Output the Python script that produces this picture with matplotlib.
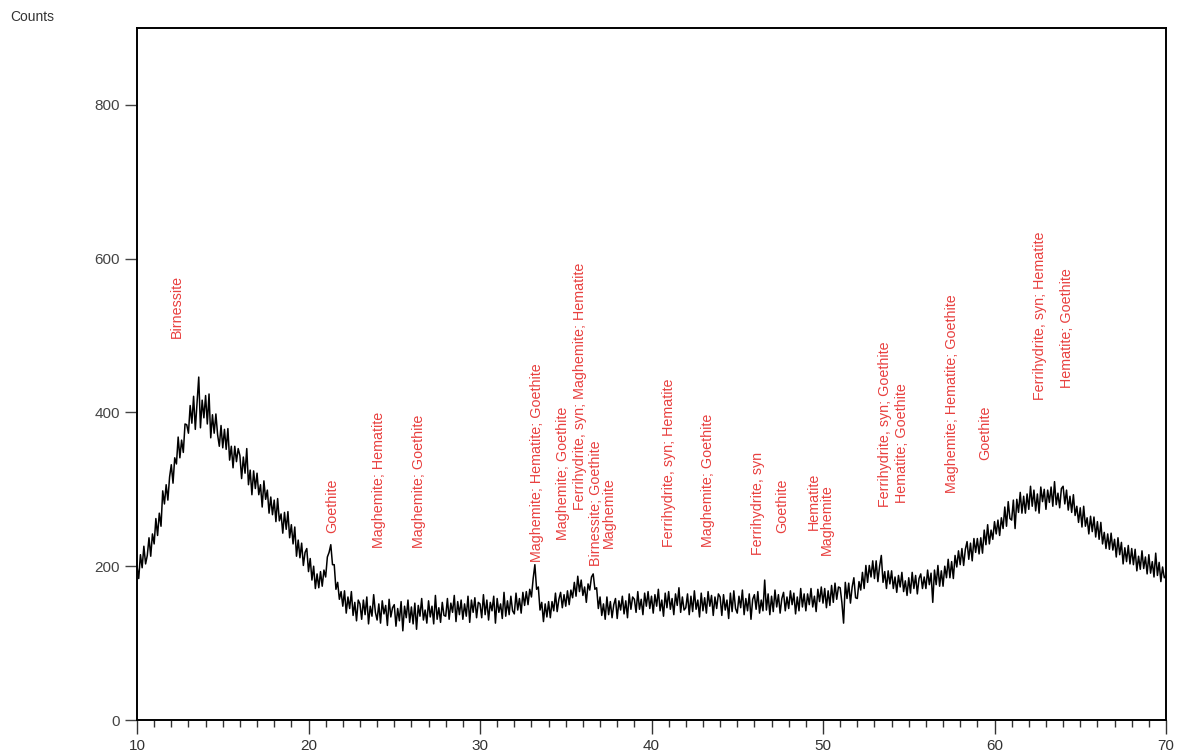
import matplotlib.pyplot as plt
import numpy as np

# 2theta scan, 0.1 deg steps from 10 to 70
start_angle = 10.0
step = 0.1
counts = [
    200, 184, 215, 198, 226, 203, 214, 237, 213, 242,
    229, 262, 240, 269, 252, 298, 281, 306, 286, 316,
    332, 308, 341, 333, 368, 341, 364, 348, 385, 384,
    373, 409, 386, 421, 378, 412, 446, 380, 416, 393,
    422, 385, 424, 367, 397, 373, 398, 371, 356, 383,
    354, 378, 352, 379, 338, 356, 328, 356, 336, 353,
    344, 314, 342, 321, 353, 306, 325, 293, 324, 301,
    321, 293, 306, 277, 311, 287, 299, 269, 290, 267,
    286, 258, 288, 259, 268, 243, 270, 248, 271, 237,
    254, 229, 251, 213, 234, 211, 230, 201, 218, 223,
    193, 210, 182, 200, 171, 190, 172, 193, 174, 195,
    186, 212, 218, 228, 202, 202, 170, 179, 157, 167,
    148, 168, 139, 160, 145, 167, 136, 153, 129, 156,
    151, 131, 156, 137, 160, 125, 148, 135, 163, 140,
    130, 151, 126, 155, 138, 149, 123, 157, 134, 146,
    150, 122, 145, 129, 154, 116, 148, 133, 156, 127,
    147, 125, 152, 118, 149, 135, 158, 130, 143, 126,
    155, 134, 148, 125, 162, 131, 146, 127, 153, 136,
    135, 158, 131, 152, 140, 162, 128, 154, 137, 156,
    131, 151, 135, 161, 127, 156, 140, 159, 133, 153,
    151, 133, 163, 137, 156, 130, 153, 142, 161, 126,
    158, 140, 151, 132, 166, 135, 155, 137, 161, 142,
    138, 165, 143, 158, 139, 166, 149, 167, 150, 170,
    160, 184, 202, 170, 173, 143, 153, 128, 151, 134,
    154, 133, 154, 142, 165, 141, 157, 166, 146, 163,
    148, 168, 150, 169, 159, 179, 161, 187, 167, 182,
    162, 173, 153, 177, 169, 186, 190, 170, 172, 145,
    160, 136, 151, 131, 160, 137, 154, 133, 150, 158,
    132, 155, 143, 161, 138, 155, 133, 164, 144, 160,
    157, 140, 167, 144, 157, 137, 165, 148, 167, 145,
    161, 139, 163, 148, 170, 142, 156, 135, 165, 146,
    167, 144, 158, 137, 164, 149, 172, 140, 160, 143,
    146, 164, 137, 161, 141, 168, 144, 156, 134, 165,
    142, 159, 139, 167, 148, 162, 136, 160, 145, 164,
    160, 136, 163, 143, 156, 132, 165, 141, 168, 145,
    139, 161, 146, 169, 137, 158, 142, 164, 131, 157,
    163, 144, 167, 139, 156, 142, 182, 143, 164, 137,
    161, 141, 169, 147, 163, 139, 158, 166, 142, 160,
    145, 168, 150, 165, 138, 160, 142, 171, 147, 164,
    142, 164, 150, 171, 147, 161, 141, 170, 154, 173,
    152, 171, 146, 168, 149, 175, 153, 178, 157, 173,
    172, 153, 126, 179, 158, 178, 152, 173, 185, 159,
    158, 180, 169, 192, 171, 201, 179, 201, 186, 207,
    184, 207, 180, 200, 214, 179, 193, 171, 194, 177,
    194, 171, 186, 166, 188, 173, 192, 167, 181, 162,
    185, 165, 192, 171, 188, 164, 184, 190, 171, 186,
    171, 195, 176, 191, 153, 195, 176, 201, 174, 194,
    174, 200, 185, 209, 185, 206, 184, 214, 199, 220,
    202, 223, 201, 222, 232, 209, 230, 207, 236, 218,
    236, 216, 237, 217, 247, 228, 254, 229, 247, 235,
    258, 242, 260, 240, 263, 249, 277, 252, 284, 262,
    260, 286, 249, 287, 270, 296, 269, 291, 269, 294,
    274, 304, 278, 299, 272, 294, 269, 303, 284, 300,
    274, 299, 283, 303, 278, 310, 280, 295, 276, 301,
    304, 281, 299, 273, 291, 270, 293, 266, 278, 257,
    276, 251, 278, 252, 263, 242, 265, 245, 264, 238,
    258, 235, 257, 229, 244, 223, 242, 222, 243, 221,
    235, 212, 237, 215, 231, 203, 224, 206, 227, 203,
    223, 202, 222, 194, 213, 196, 220, 197, 212, 190,
    215, 191, 206, 186, 217, 188, 205, 180, 199, 185,
    188,
]
angles = start_angle + step * np.arange(len(counts))

# phase labels: position, base height, text
label_pos = [12.33, 21.37, 24.1, 26.44, 33.3, 34.84, 35.83, 36.76, 37.5,
             41.0, 43.3, 46.2, 47.6, 49.45, 50.2, 53.6, 54.6, 57.55, 59.45,
             62.65, 64.25]
label_base = [497, 243, 224, 224, 205, 234, 273, 200, 224,
              225, 225, 215, 243, 247, 215, 277, 282, 295, 338,
              416, 432]
label_text = ['Birnessite', 'Goethite', 'Maghemite; Hematite', 'Maghemite; Goethite',
              'Maghemite; Hematite; Goethite', 'Maghemite; Goethite',
              'Ferrihydrite, syn; Maghemite; Hematite', 'Birnessite; Goethite',
              'Maghemite', 'Ferrihydrite, syn; Hematite', 'Maghemite; Goethite',
              'Ferrihydrite, syn', 'Goethite', 'Hematite', 'Maghemite',
              'Ferrihydrite, syn; Goethite', 'Hematite; Goethite',
              'Maghemite; Hematite; Goethite', 'Goethite',
              'Ferrihydrite, syn; Hematite', 'Hematite; Goethite']

plt.rcParams['font.family'] = ['Liberation Sans', 'DejaVu Sans']

fig = plt.figure(figsize=(11.79, 7.56), dpi=100)
ax = fig.add_axes([137/1179, 1 - 720/756, (1166 - 137)/1179, (720 - 28)/756])

ax.plot(angles, counts, color='black', linewidth=1.1)

for x, y, t in zip(label_pos, label_base, label_text):
    ax.text(x, y, t, rotation=90, ha='center', va='bottom',
            fontsize=10.3, color='#e8403f')

ax.set_xlim(10, 70)
ax.set_ylim(0, 900)
ax.set_xticks(np.arange(10, 71, 10))
ax.set_xticks(np.arange(10, 71, 1), minor=True)
ax.set_yticks(np.arange(0, 801, 200))
ax.tick_params(axis='x', which='major', length=10, width=1, colors='#333333', labelsize=11)
ax.tick_params(axis='x', which='minor', length=5, width=1, color='#333333')
ax.tick_params(axis='y', which='major', length=9, width=1, colors='#444444', labelsize=11)
for s in ax.spines.values():
    s.set_linewidth(1.4)
    s.set_color('black')

fig.text(10/1179, 1 - 17/756, 'Counts', va='center', ha='left', fontsize=10, color='#333333')

plt.savefig('out.png', dpi=100)
